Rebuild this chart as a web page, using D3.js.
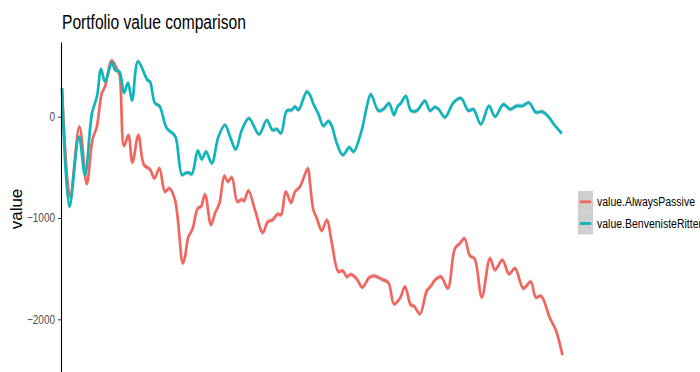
<!DOCTYPE html>
<html>
<head>
<meta charset="utf-8">
<script src="https://cdn.jsdelivr.net/npm/d3@7"></script>
<style>
  body { margin: 0; background: #fff; }
  svg { display: block; font-family: 'Liberation Sans', Arial, Helvetica, sans-serif; }
</style>
</head>
<body>
<svg id="chart" width="700" height="372"></svg>
<script>
// series: day index and portfolio value
const passiveDays = [0, 4, 8.7, 12.4, 15.2, 17.4, 19.9, 21.5, 24.9, 27.7, 28.8, 31, 33.2, 35.2, 38.2, 41, 44, 46.2, 48.7, 51.5, 53.7, 56.5, 60.4, 61.5, 63.2, 65.2, 67.9, 69.5, 71.5, 74.5, 76.5, 78.7, 81.2, 82.9, 84.9, 87.7, 89.9, 91, 93.2, 96.5, 100.4, 102.9, 105.2, 107.9, 109.5, 111.9, 114.5, 116.5, 119, 122.9, 124, 125.7, 127.4, 129.9, 132.4, 134.9, 138.2, 140.4, 142.4, 144.4, 147.4, 150.2, 153.7, 156.5, 159.9, 163.2, 166, 169, 171.5, 174.4, 176, 179, 182.4, 184.5, 186.5, 189.5, 192.9, 196.5, 199, 201.2, 204, 206.2, 209.9, 214, 216.5, 220.2, 223.5, 226.5, 230.7, 234.4, 236.9, 239.5, 244, 246.9, 250.2]
const passiveValues = [280, -790, -99, -664, -230, -99, 231, 296, 553, 461, 412, -289, -181, -454, -181, -477, -519, -608, -509, -740, -707, -822, -1447, -1382, -1185, -1112, -904, -888, -766, -1069, -954, -855, -585, -642, -598, -839, -815, -832, -730, -921, -1145, -1037, -1020, -961, -970, -740, -849, -740, -691, -509, -657, -921, -1003, -1125, -1020, -1244, -1530, -1520, -1580, -1556, -1602, -1684, -1585, -1573, -1605, -1639, -1849, -1793, -1678, -1859, -1869, -1948, -1718, -1671, -1612, -1580, -1694, -1299, -1250, -1200, -1375, -1398, -1783, -1398, -1513, -1415, -1553, -1497, -1694, -1629, -1783, -1770, -1990, -2106, -2353]

const brDays = [0, 3.7, 8.5, 11.5, 15, 17.5, 19.5, 21.5, 25, 26.5, 28.7, 31, 33, 35, 38, 42.7, 44, 46.5, 48.7, 52.4, 55.7, 57, 60, 61.5, 63.2, 64.9, 67.9, 69.9, 72, 74.9, 78.2, 81.5, 84, 86.9, 89.9, 93.5, 98.5, 102.4, 105.2, 107.4, 109.5, 112.4, 114.9, 116.5, 118.2, 122.4, 124, 125.7, 128.2, 130.7, 133.2, 134.9, 137.4, 140.4, 143.7, 145.7, 149.9, 152.4, 154.4, 158.2, 160.7, 163.5, 166, 167.7, 169.4, 171.9, 174.5, 177.4, 181.5, 184, 186.5, 188.2, 191.5, 195.7, 199.5, 203.2, 205.7, 209.4, 213.5, 216.5, 220.7, 224, 227.4, 230.2, 233.5, 236.9, 240.2, 243.2, 246.2, 249.9]
const brValues = [280, -888, -197, -575, 35, 200, 470, 345, 535, 461, 444, 237, 335, 160, 545, 362, 345, 132, 106, -115, -171, -213, -575, -559, -553, -566, -336, -421, -345, -460, -197, -82, -197, -322, -131, -16, -174, -33, -131, -124, -164, 59, 66, 99, 66, 247, 214, 125, 27, -92, -43, -92, -263, -378, -302, -346, -131, 99, 221, 59, 73, 132, 17, 99, 132, 204, 59, 59, 155, 59, 94, 76, -6, 138, 182, 59, 73, -75, 106, 0, 122, 73, 106, 106, 138, 43, 49, 0, -82, -164]

const seriesNames = ['value.AlwaysPassive', 'value.BenvenisteRitter']
const seriesColors = ['#F2665F', '#10B5BA']
const yTicks = [-2000, -1000, 0]
const bandHalf = 24

const series = [
  passiveDays.map((d, i) => ({ day: d, value: passiveValues[i] })),
  brDays.map((d, i) => ({ day: d, value: brValues[i] }))
]

const svg = d3.select('#chart')

// ggplot output looks squeezed horizontally, shrink text widths to fit
function squish(sel, k) {
  sel.each(function() {
    const w = this.getComputedTextLength()
    d3.select(this).attr('textLength', w * k).attr('lengthAdjust', 'spacingAndGlyphs')
  })
}

/// scales ////////////////////////////////
const xScale = d3.scaleLinear().domain([0, 250]).range([62, 562])
const yScale = d3.scaleLinear().domain([-2520, 737]).range([372, 42])

/// ribbons + lines ////////////////////////
const area = d3.area()
  .x(d => xScale(d.day))
  .y0(d => yScale(d.value - bandHalf))
  .y1(d => yScale(d.value + bandHalf))
  .curve(d3.curveCatmullRom)

const line = d3.line()
  .x(d => xScale(d.day))
  .y(d => yScale(d.value))
  .curve(d3.curveCatmullRom)

series.forEach((s, i) => {
  svg.append('path')
    .datum(s)
    .attr('d', area)
    .attr('fill', '#999')
    .attr('opacity', 0.4)
  svg.append('path')
    .datum(s)
    .attr('d', line)
    .attr('fill', 'none')
    .attr('stroke', seriesColors[i])
    .attr('stroke-width', 2.7)
    .attr('stroke-linejoin', 'round')
})

/// y axis ////////////////////////////////
const yAxis = svg.append('g')
  .attr('transform', 'translate(61,0)')
  .call(d3.axisLeft(yScale).tickValues(yTicks).tickSizeInner(3).tickSizeOuter(0).tickPadding(3).tickFormat(d3.format('d')))

yAxis.select('.domain').attr('stroke', '#000').attr('stroke-width', 1.1)
yAxis.selectAll('.tick line').attr('stroke', '#333').attr('stroke-width', 1)
yAxis.selectAll('.tick text')
  .attr('fill', '#4d4d4d')
  .attr('font-size', 12.5)
  .attr('font-family', "'Liberation Sans', Arial, sans-serif")
  .call(squish, 0.8)

/// labels ////////////////////////////////
svg.append('text')
  .attr('x', 62)
  .attr('y', 28.5)
  .attr('font-size', 19.5)
  .attr('fill', '#000')
  .text('Portfolio value comparison')
  .call(squish, 0.8)

svg.append('text')
  .attr('transform', 'translate(22,209) rotate(-90)')
  .attr('text-anchor', 'middle')
  .attr('font-size', 17)
  .attr('fill', '#000')
  .text('value')

/// legend ////////////////////////////////
const legend = svg.append('g').attr('transform', 'translate(578,191)')
const legendTexts = []
seriesNames.forEach((name, i) => {
  const g = legend.append('g').attr('transform', `translate(0,${i * 21.7})`)
  g.append('rect')
    .attr('width', 15)
    .attr('height', 21.7)
    .attr('fill', '#cfcfcf')
  g.append('line')
    .attr('x1', 1.8).attr('x2', 13.2)
    .attr('y1', 10.8).attr('y2', 10.8)
    .attr('stroke', seriesColors[i])
    .attr('stroke-width', 2.8)
  legendTexts.push(g.append('text')
    .attr('x', 19)
    .attr('y', 15.2)
    .attr('font-size', 12.5)
    .attr('fill', '#000')
    .text(name))
})
// first label spans about 98px in the reference
const legendK = 98 / legendTexts[0].node().getComputedTextLength()
legendTexts.forEach(t => t.call(squish, legendK))
</script>
</body>
</html>
